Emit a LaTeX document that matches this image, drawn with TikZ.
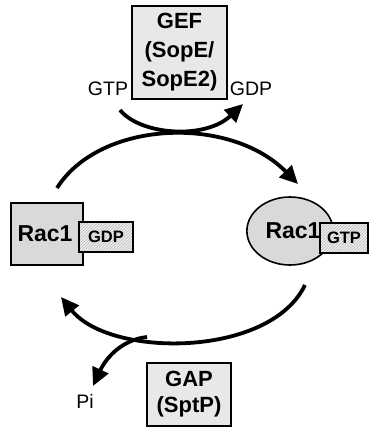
\documentclass[tikz,border=0pt]{standalone}
\usepackage{fontspec}
\setmainfont{Liberation Sans}
\usetikzlibrary{arrows.meta}
\usetikzlibrary{patterns}
\usetikzlibrary{shapes.geometric}
\definecolor{rac-gray}{RGB}{217, 217, 217}
\definecolor{enzyme-gray}{RGB}{232, 232, 232}
\definecolor{hatch-gray}{RGB}{238, 238, 238}

\tikzset{
  bigtext/.style={font=\fontsize{22}{29}\selectfont\bfseries},
  ractext/.style={font=\fontsize{23}{28}\selectfont\bfseries},
  smalltext/.style={font=\fontsize{16.5}{18}\selectfont\bfseries},
  enzyme/.style={draw=black, line width=1.6pt, fill=enzyme-gray, bigtext, align=center, inner sep=0pt},
  racbox/.style={draw=black, line width=1.6pt, fill=rac-gray, ractext, inner sep=0pt},
  nucleotide/.style={draw=black, line width=1.6pt, preaction={fill=hatch-gray}, pattern=north east lines, pattern color=gray!55, smalltext, inner sep=0pt},
  sidetext/.style={font=\fontsize{19.5}{22}\selectfont, inner sep=0pt},
  cycle/.style={line width=3.8pt, -{Triangle[length=18pt,width=17pt]}}
}

\begin{document}
\begin{tikzpicture}[x=1pt,y=-1pt]
\useasboundingbox (0,0) rectangle (369,428);

\node[enzyme, minimum width=95pt, minimum height=93pt] (gef) at (179.5,52.5) {GEF\\(SopE/\\SopE2)};
\node[sidetext] (gtp-in) at (108,89) {GTP};
\node[sidetext] (gdp-out) at (251,89) {GDP};

\node[racbox, minimum width=72pt, minimum height=62pt] (rac-inactive) at (47,234) {\hspace*{-4pt}Rac1};
\node[nucleotide, minimum width=54pt, minimum height=30pt] (gdp) at (106,237) {GDP};

\node[racbox, ellipse, minimum width=86pt, minimum height=68pt] (rac-active) at (290,231) {\hspace*{6pt}Rac1};
\node[nucleotide, minimum width=48pt, minimum height=30pt] (gtp) at (344,238) {GTP};

\node[enzyme, minimum width=84pt, minimum height=63pt, font=\fontsize{22}{26}\selectfont\bfseries] (gap) at (189,394.5) {GAP\\(SptP)};
\node[sidetext] (pi) at (85,401) {Pi};

% activation and inactivation arcs
\coordinate (act-start) at (57,188);
\coordinate (act-end) at (298,184);
\coordinate (gef-start) at (120,110);
\coordinate (gef-end) at (243,104);
\coordinate (gap-start) at (305,285);
\coordinate (gap-end) at (61,297);
\coordinate (pi-start) at (147,337);
\coordinate (pi-end) at (93,386);

\draw[cycle] (act-start) .. controls (100,120) and (230,115) .. (act-end);
\draw[cycle] (gef-start) .. controls (140,135) and (205,140) .. (gef-end);
\draw[cycle] (gap-start) .. controls (270,358) and (110,358) .. (gap-end);
\draw[cycle] (pi-start) .. controls (120,340) and (105,360) .. (pi-end);
\end{tikzpicture}
\end{document}
